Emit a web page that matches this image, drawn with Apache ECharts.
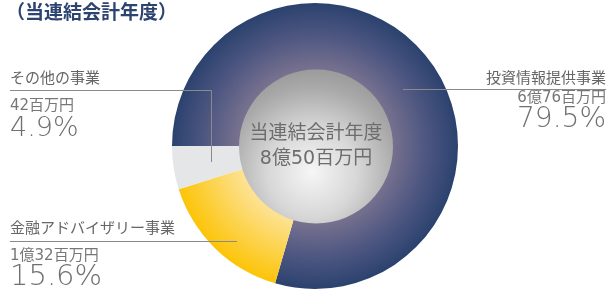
<!DOCTYPE html>
<html>
<head>
<meta charset="utf-8">
<script src="https://cdn.jsdelivr.net/npm/echarts@6/dist/echarts.min.js"></script>
<style>
html, body { margin: 0; padding: 0; background: #fff; }
#main { width: 616px; height: 294px; }
</style>
</head>
<body>
<div id="main"></div>
<script>
// 事業別の内訳（当連結会計年度）
var segments = ['投資情報提供事業', '金融アドバイザリー事業', 'その他の事業'];
var shares = [79.5, 15.6, 4.9];
var amounts = ['6億76百万円', '1億32百万円', '42百万円'];
var titleText = '（当連結会計年度）';
var centerLines = ['当連結会計年度', '8億50百万円'];

var CX = 315, CY = 146, R = 143, R_IN = 77;
var FONT = '"Noto Sans CJK JP", "Noto Sans", sans-serif';
var NUMFONT = '"DejaVu Sans", "Noto Sans CJK JP", sans-serif';

var fills = [
  new echarts.graphic.RadialGradient(CX, CY, R, [
    { offset: 0, color: '#9a94ae' },
    { offset: 0.54, color: '#77718f' },
    { offset: 0.78, color: '#4d5681' },
    { offset: 1, color: '#2b426e' }
  ], true),
  new echarts.graphic.RadialGradient(CX, CY, R, [
    { offset: 0, color: '#fff0c0' },
    { offset: 0.54, color: '#fde292' },
    { offset: 1, color: '#fcc408' }
  ], true),
  '#e5e6e8'
];

var myChart = echarts.init(document.getElementById('main'));

// ラベル（名前・下線・金額・比率）
function labelBlock(i, x, nameY, amtY, pctY, pctSize, align, line) {
  var pos = function (o) {
    if (align === 'right') o.right = 616 - x; else o.left = x;
    return o;
  };
  return [
    pos({ type: 'text', top: nameY,
      style: { text: segments[i], font: '15px ' + FONT, fill: '#666' } }),
    pos({ type: 'text', top: amtY,
      style: { text: amounts[i], font: '15px ' + NUMFONT, fill: '#777' } }),
    pos({ type: 'text', top: pctY,
      style: { text: shares[i].toFixed(1) + '%', font: '200 ' + pctSize + 'px "DejaVu Sans", sans-serif', fill: '#707070' } }),
    { type: 'polyline', z: 20, shape: { points: line },
      style: { stroke: '#8a8a8a', lineWidth: 1, fill: null } }
  ];
}

var graphics = [
  { type: 'text', left: 6, top: 2,
    style: { text: titleText, font: 'bold 19px ' + FONT, fill: '#2d4470' } }
];
graphics = graphics.concat(labelBlock(0, 606, 70, 91, 106, 28, 'right', [[403, 89.5], [606, 89.5]]));
graphics = graphics.concat(labelBlock(2, 10, 70, 99, 115, 27, 'left', [[10, 90.5], [211.5, 90.5], [211.5, 162]]));
graphics = graphics.concat(labelBlock(1, 10, 220, 249, 263, 29, 'left', [[10, 241.5], [237, 241.5]]));

myChart.setOption({
  animation: false,
  graphic: graphics,
  series: [{
    type: 'pie',
    center: [CX, CY],
    radius: [0, R],
    startAngle: 180,
    clockwise: true,
    silent: true,
    label: { show: false },
    labelLine: { show: false },
    data: segments.map(function (n, i) {
      return { name: n, value: shares[i], itemStyle: { color: fills[i] } };
    })
  }, {
    type: 'pie',
    center: [CX + 1, CY + 0.5],
    radius: [0, R_IN],
    silent: true,
    z: 5,
    labelLine: { show: false },
    label: {
      show: true,
      position: 'center',
      formatter: centerLines.join('\n'),
      fontSize: 19,
      fontFamily: NUMFONT,
      color: '#6d6d6d',
      lineHeight: 25
    },
    data: [{
      name: 'total', value: 850,
      itemStyle: {
        color: new echarts.graphic.RadialGradient(312, 172, 100, [
          { offset: 0, color: '#f6f6f6' },
          { offset: 0.45, color: '#d7d7d7' },
          { offset: 0.85, color: '#a9a9a9' },
          { offset: 1, color: '#9d9d9d' }
        ], true)
      }
    }]
  }]
});
</script>
</body>
</html>
